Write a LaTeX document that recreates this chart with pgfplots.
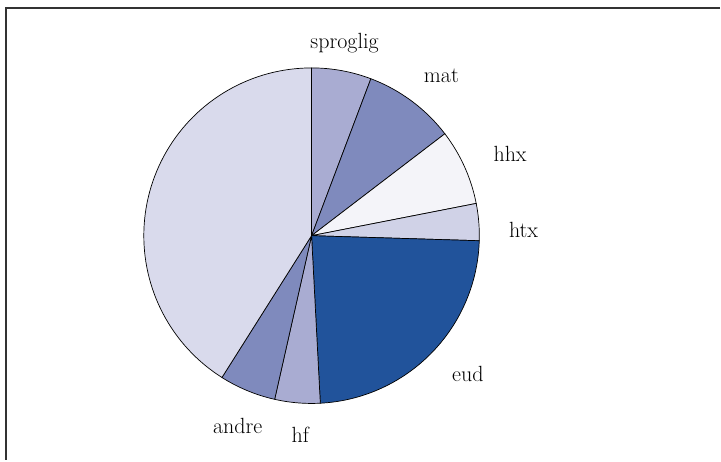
\documentclass[border=0pt]{standalone}
\usepackage{pgfplots}
\pgfplotsset{compat=1.18}
\definecolor{cBig}{HTML}{D9DAEC}
\definecolor{cLight}{HTML}{A9ACD2}
\definecolor{cMid}{HTML}{7F8ABD}
\definecolor{cWhite}{HTML}{F4F4F9}
\definecolor{cPale}{HTML}{D0D2E7}
\definecolor{cDark}{HTML}{21539B}
\definecolor{cFrame}{HTML}{333333}
% slice: #1 cumulative start (%), #2 cumulative end (%), #3 colour
\newcommand{\slice}[3]{%
  \pgfmathsetmacro\angA{90-3.6*#2}%
  \pgfmathsetmacro\angB{90-3.6*#1}%
  \addplot[fill=#3, draw=black, line width=0.7bp, domain=\angA:\angB, samples=80, variable=\t]
    ({312+168*cos(\t)},{236-168*sin(\t)}) -- (axis cs:312,236) -- cycle;
}
\begin{document}
\begin{tikzpicture}
\begin{axis}[width=721bp,height=461bp,scale only axis,
  xmin=0,xmax=721,ymin=0,ymax=461,y dir=reverse,hide axis,clip=false]
% shares in percent: sproglig 5.75, mat 8.86, hhx 7.31, htx 3.56, eud 23.69, hf 4.36, andre 5.44, other 41.03
\slice{0}{5.75}{cLight}
\slice{5.75}{14.61}{cMid}
\slice{14.61}{21.92}{cWhite}
\slice{21.92}{25.48}{cPale}
\slice{25.48}{49.17}{cDark}
\slice{49.17}{53.53}{cLight}
\slice{53.53}{58.97}{cMid}
\slice{58.97}{100}{cBig}
\draw[cFrame, line width=2bp] (axis cs:721,8.5) -- (axis cs:6.5,8.5) -- (axis cs:6.5,461);
\begin{scope}[every node/.style={anchor=base, inner sep=0pt, font=\fontsize{22bp}{26bp}\selectfont}]
\node at (axis cs:345,48.3) {sproglig};
\node at (axis cs:442,83) {mat};
\node at (axis cs:510.8,161.7) {hhx};
\node at (axis cs:524.3,238.3) {htx};
\node at (axis cs:468.5,381.7) {eud};
\node at (axis cs:300.8,442.7) {hf};
\node at (axis cs:238,434) {andre};
\end{scope}
\end{axis}
\path (current axis.south west) rectangle (current axis.north east);
\end{tikzpicture}
\end{document}
